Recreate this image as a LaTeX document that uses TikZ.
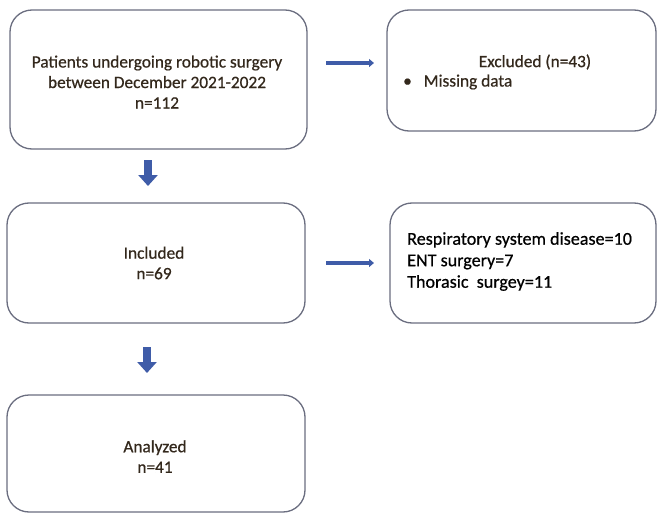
\documentclass[tikz,border=0pt]{standalone}
\usepackage{fontspec}
\setmainfont{Carlito}
\newfontfamily\medfont{Carlito}[FakeBold=0.6]
\usetikzlibrary{arrows.meta}
\definecolor{boxline}{HTML}{6B6E80}
\definecolor{arr}{HTML}{3F5CA8}
\definecolor{txt}{HTML}{33281C}
\begin{document}
\begin{tikzpicture}[x=1pt,y=-1pt,
  box/.style={draw=boxline, line width=1.3pt, rounded corners=22pt, fill=white, inner sep=0pt},
  lbl/.style={text=txt, font=\medfont\fontsize{17.3}{20.5}\selectfont, align=center, inner sep=0pt},
  lbl2/.style={text=black, font=\medfont\fontsize{18.1}{21.5}\selectfont, align=left, inner sep=0pt},
  rarr/.style={draw=arr, line width=3.5pt, -{Triangle[width=8pt,length=5pt]}},
  darr/.style={draw=arr, line width=8pt, -{Triangle[width=19pt,length=11pt]}}]
\useasboundingbox (0,0) rectangle (657,514);
\fill[white] (0,0) rectangle (657,514);
% boxes
\node[box, minimum width=297pt, minimum height=139pt] (p) at (158.5,79.5) {};
\node[box, minimum width=269pt, minimum height=121pt] (e) at (521.5,70.5) {};
\node[box, minimum width=298pt, minimum height=120pt] (i) at (156,263) {};
\node[box, minimum width=266pt, minimum height=120pt] (r) at (523,263) {};
\node[box, minimum width=298pt, minimum height=117pt] (a) at (156,453.5) {};
% texts
\node[lbl] (pt) at (157,82) {Patients undergoing robotic surgery\\between December 2021-2022\\n=112};
\node[lbl] (et) at (535,62) {Excluded (n=43)};
\node[lbl, anchor=west] (eb) at (403,82) {\textbullet\hspace{12pt}Missing data};
\node[lbl] (it) at (154,263) {Included\\n=69};
\node[lbl2, anchor=west] (rt) at (407,261.5) {Respiratory system disease=10\\ENT surgery=7\\Thorasic\ \ surgey=11};
\node[lbl] (at) at (155,456.5) {Analyzed\\n=41};
% connectors
\coordinate (r1s) at (326,63);
\coordinate (r1e) at (374,63);
\coordinate (r2s) at (326,263);
\coordinate (r2e) at (374,263);
\coordinate (d1s) at (148,160);
\coordinate (d1e) at (148,186);
\coordinate (d2s) at (147,347);
\coordinate (d2e) at (147,373);
\draw[rarr] (r1s) -- (r1e);
\draw[rarr] (r2s) -- (r2e);
\draw[darr] (d1s) -- (d1e);
\draw[darr] (d2s) -- (d2e);
\end{tikzpicture}
\end{document}
